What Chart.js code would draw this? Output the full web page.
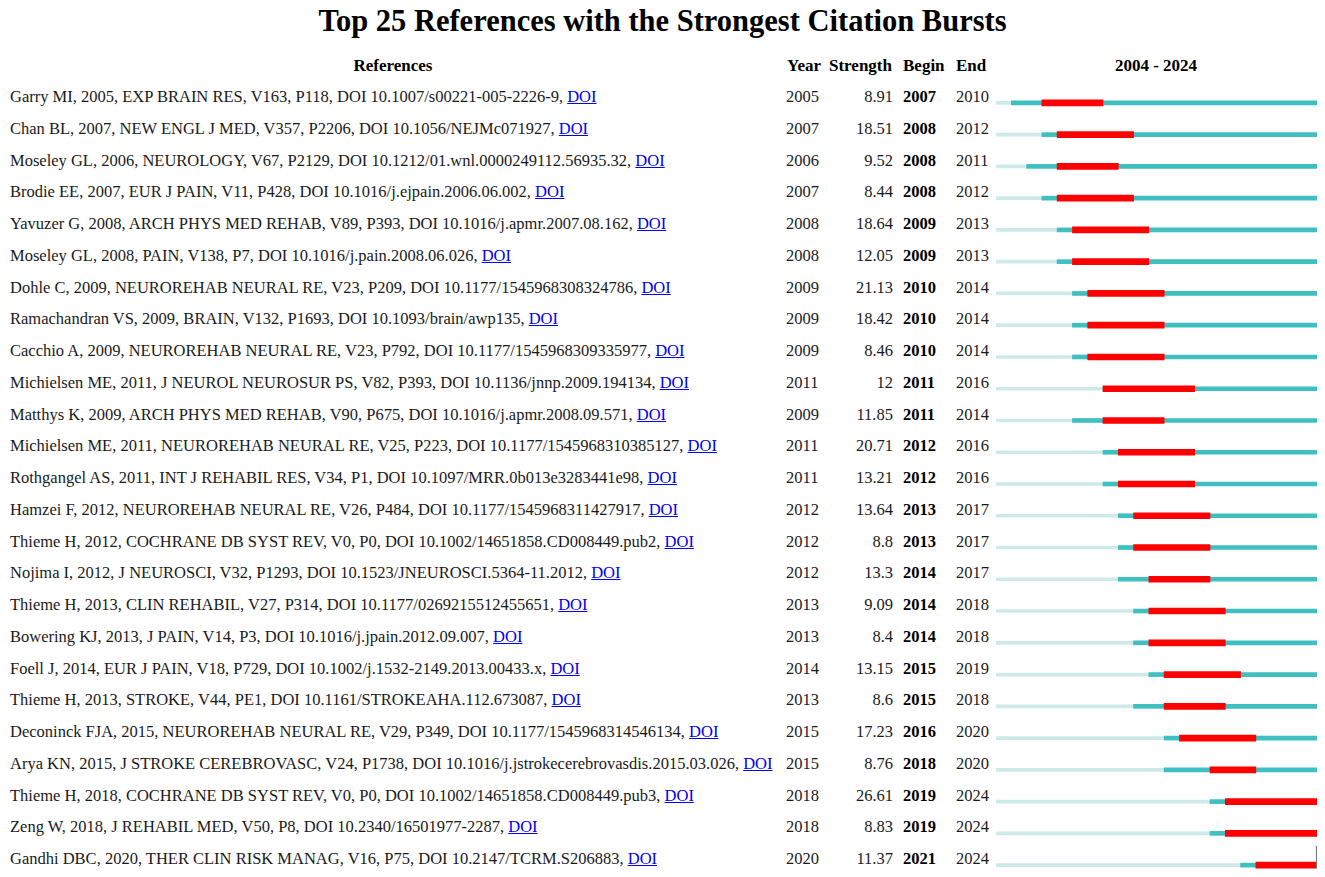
<!DOCTYPE html>
<html>
<head>
<meta charset="utf-8">
<script src="https://cdn.jsdelivr.net/npm/chart.js@4.4.1/dist/chart.umd.min.js"></script>
<style>
  html, body {
    margin: 0;
    padding: 0;
    background: #ffffff;
  }
  body {
    width: 1325px;
    height: 877px;
    position: relative;
    overflow: hidden;
    font-family: "Liberation Serif", "Times New Roman", serif;
    color: #1a1a1a;
  }
  .title {
    position: absolute;
    left: 0;
    width: 1325px;
    top: 3px;
    text-align: center;
    font-size: 30.5px;
    font-weight: bold;
    color: #000;
    line-height: 36px;
  }
  .cell {
    position: absolute;
    font-size: 16.5px;
    line-height: 20px;
    white-space: nowrap;
  }
  .head {
    font-weight: bold;
    color: #000;
    font-size: 17px;
  }
  .bold {
    font-weight: bold;
    color: #000;
  }
  a {
    color: #0000ee;
    text-decoration: underline;
  }
  #burstWrap {
    position: absolute;
    left: 996px;
    top: 87px;
    width: 321px;
    height: 794px;
  }
</style>
</head>
<body>
<div class="title">Top 25 References with the Strongest Citation Bursts</div>
<div id="table"></div>
<div id="burstWrap"><canvas id="burstChart" width="321" height="794"></canvas></div>

<script>
const yearStart = 2004;
const yearEnd = 2024;

const references = [
  "Garry MI, 2005, EXP BRAIN RES, V163, P118, DOI 10.1007/s00221-005-2226-9",
  "Chan BL, 2007, NEW ENGL J MED, V357, P2206, DOI 10.1056/NEJMc071927",
  "Moseley GL, 2006, NEUROLOGY, V67, P2129, DOI 10.1212/01.wnl.0000249112.56935.32",
  "Brodie EE, 2007, EUR J PAIN, V11, P428, DOI 10.1016/j.ejpain.2006.06.002",
  "Yavuzer G, 2008, ARCH PHYS MED REHAB, V89, P393, DOI 10.1016/j.apmr.2007.08.162",
  "Moseley GL, 2008, PAIN, V138, P7, DOI 10.1016/j.pain.2008.06.026",
  "Dohle C, 2009, NEUROREHAB NEURAL RE, V23, P209, DOI 10.1177/1545968308324786",
  "Ramachandran VS, 2009, BRAIN, V132, P1693, DOI 10.1093/brain/awp135",
  "Cacchio A, 2009, NEUROREHAB NEURAL RE, V23, P792, DOI 10.1177/1545968309335977",
  "Michielsen ME, 2011, J NEUROL NEUROSUR PS, V82, P393, DOI 10.1136/jnnp.2009.194134",
  "Matthys K, 2009, ARCH PHYS MED REHAB, V90, P675, DOI 10.1016/j.apmr.2008.09.571",
  "Michielsen ME, 2011, NEUROREHAB NEURAL RE, V25, P223, DOI 10.1177/1545968310385127",
  "Rothgangel AS, 2011, INT J REHABIL RES, V34, P1, DOI 10.1097/MRR.0b013e3283441e98",
  "Hamzei F, 2012, NEUROREHAB NEURAL RE, V26, P484, DOI 10.1177/1545968311427917",
  "Thieme H, 2012, COCHRANE DB SYST REV, V0, P0, DOI 10.1002/14651858.CD008449.pub2",
  "Nojima I, 2012, J NEUROSCI, V32, P1293, DOI 10.1523/JNEUROSCI.5364-11.2012",
  "Thieme H, 2013, CLIN REHABIL, V27, P314, DOI 10.1177/0269215512455651",
  "Bowering KJ, 2013, J PAIN, V14, P3, DOI 10.1016/j.jpain.2012.09.007",
  "Foell J, 2014, EUR J PAIN, V18, P729, DOI 10.1002/j.1532-2149.2013.00433.x",
  "Thieme H, 2013, STROKE, V44, PE1, DOI 10.1161/STROKEAHA.112.673087",
  "Deconinck FJA, 2015, NEUROREHAB NEURAL RE, V29, P349, DOI 10.1177/1545968314546134",
  "Arya KN, 2015, J STROKE CEREBROVASC, V24, P1738, DOI 10.1016/j.jstrokecerebrovasdis.2015.03.026",
  "Thieme H, 2018, COCHRANE DB SYST REV, V0, P0, DOI 10.1002/14651858.CD008449.pub3",
  "Zeng W, 2018, J REHABIL MED, V50, P8, DOI 10.2340/16501977-2287",
  "Gandhi DBC, 2020, THER CLIN RISK MANAG, V16, P75, DOI 10.2147/TCRM.S206883"
];

const years = [2005, 2007, 2006, 2007, 2008, 2008, 2009, 2009, 2009, 2011, 2009, 2011, 2011,
  2012, 2012, 2012, 2013, 2013, 2014, 2013, 2015, 2015, 2018, 2018, 2020];

const strengths = ["8.91", "18.51", "9.52", "8.44", "18.64", "12.05", "21.13", "18.42", "8.46", "12",
  "11.85", "20.71", "13.21", "13.64", "8.8", "13.3", "9.09", "8.4", "13.15", "8.6", "17.23", "8.76",
  "26.61", "8.83", "11.37"];

const begins = [2007, 2008, 2008, 2008, 2009, 2009, 2010, 2010, 2010, 2011, 2011, 2012, 2012,
  2013, 2013, 2014, 2014, 2014, 2015, 2015, 2016, 2018, 2019, 2019, 2021];

const ends = [2010, 2012, 2011, 2012, 2013, 2013, 2014, 2014, 2014, 2016, 2014, 2016, 2016,
  2017, 2017, 2017, 2018, 2018, 2019, 2018, 2020, 2020, 2024, 2024, 2024];

const ROW_TOP = 97;
const ROW_STEP = 31.75;

function addCell(text, left, top, extraClass, width, align) {
  const el = document.createElement("div");
  el.className = "cell " + (extraClass || "");
  el.style.left = left + "px";
  el.style.top = (top - 10) + "px";
  if (width) el.style.width = width + "px";
  if (align) el.style.textAlign = align;
  el.innerHTML = text;
  document.getElementById("table").appendChild(el);
  return el;
}

function renderTable() {
  const headY = 66;
  addCell("References", 293, headY, "head", 200, "center");
  addCell("Year", 787, headY, "head");
  addCell("Strength", 829, headY, "head");
  addCell("Begin", 903, headY, "head");
  addCell("End", 956, headY, "head");
  addCell("2004 - 2024", 1056, headY, "head", 200, "center");

  references.forEach((ref, i) => {
    const y = ROW_TOP + i * ROW_STEP;
    addCell(ref + ', <a href="#">DOI</a>', 10, y);
    addCell(String(years[i]), 786, y);
    addCell(strengths[i], 813, y, "", 80, "right");
    addCell(String(begins[i]), 903, y, "bold");
    addCell(String(ends[i]), 956, y);
  });
}

function renderBursts() {
  const labels = references.map((_, i) => i);
  const before = years.map((y) => [yearStart, y]);
  const waitToBurst = years.map((y, i) => [y, begins[i]]);
  const burst = begins.map((b, i) => [b, ends[i] + 1]);
  const after = ends.map((e) => [e + 1, yearEnd + 1]);

  const endMarker = {
    id: "endMarker",
    afterDatasetsDraw(chart) {
      const { ctx, scales } = chart;
      const last = references.length - 1;
      const x = scales.x.getPixelForValue(yearEnd + 1) - 0.5;
      const y = scales.y.getPixelForValue(last);
      ctx.save();
      ctx.strokeStyle = "#777777";
      ctx.lineWidth = 1.2;
      ctx.beginPath();
      ctx.moveTo(x, y - 19);
      ctx.lineTo(x, y + 3);
      ctx.stroke();
      ctx.restore();
    }
  };

  new Chart(document.getElementById("burstChart"), {
    type: "bar",
    data: {
      labels,
      datasets: [
        { label: "Burst", data: burst, backgroundColor: "#ff0000", barThickness: 6, grouped: false },
        { label: "Active", data: waitToBurst, backgroundColor: "#3fbfbf", barThickness: 4, grouped: false },
        { label: "Active after", data: after, backgroundColor: "#3fbfbf", barThickness: 4, grouped: false },
        { label: "Before", data: before, backgroundColor: "#cde9ea", barThickness: 3, grouped: false }
      ]
    },
    options: {
      indexAxis: "y",
      responsive: false,
      animation: false,
      layout: { padding: 0 },
      plugins: {
        legend: { display: false },
        tooltip: { enabled: false }
      },
      scales: {
        x: { type: "linear", min: yearStart, max: yearEnd + 1, display: false },
        y: { type: "category", display: false, offset: true }
      }
    },
    plugins: [endMarker]
  });
}

renderTable();
renderBursts();
</script>
</body>
</html>
